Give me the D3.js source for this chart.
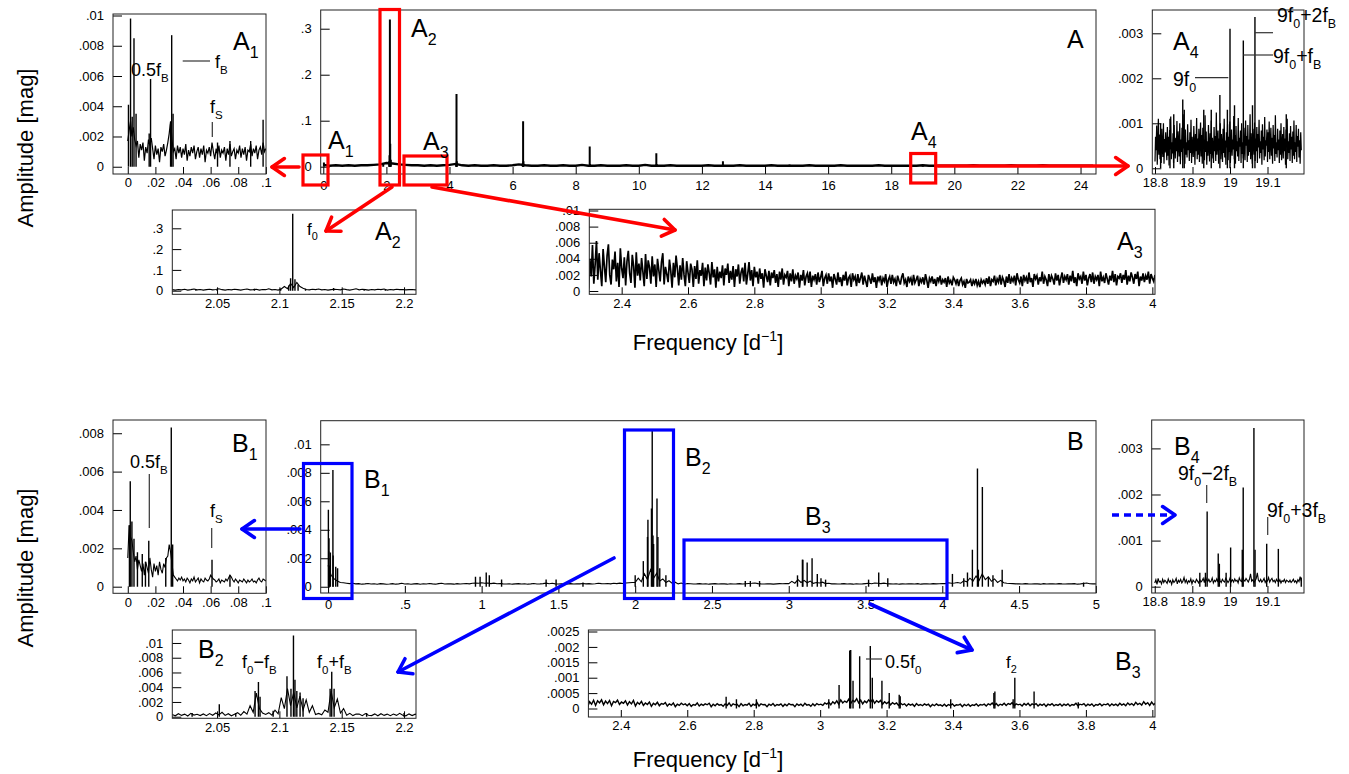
<!DOCTYPE html>
<html>
<head>
<meta charset="utf-8">
<script src="https://cdn.jsdelivr.net/npm/d3@7"></script>
<style>
  body { margin: 0; background: #fff; }
  text { font-family: "Liberation Sans", Arial, Helvetica, sans-serif; fill: #000; }
</style>
</head>
<body>
<svg id="fig" width="1349" height="774"></svg>
<script>
// ---------------- data ----------------
// A: original spectrum, B: residual spectrum. Noise floors are sampled on a
// regular frequency grid (start, step) and given in integer units; peaks are [freq, amp].

// main A, 0..24.4 every 0.2 d^-1, unit 0.001 mag
const aNoise = [4,2,3,2,3,2,3,3,4,5, 8,7,5,4,3,3,2,3,2,3, 4,6,3,2,3,2,2,3,2,2,
  3,5,3,2,2,3,2,2,3,2, 2,4,2,2,3,2,2,2,3,2, 2,4,2,2,2,3,2,2,2,2, 2,3,2,2,2,2,3,2,2,2,
  2,3,2,2,2,2,2,3,2,2, 2,2,3,2,2,2,2,2,3,2, 2,2,2,2,2,3,2,2,2,2, 2,2,2,3,2,2,2,2,2,3,
  2,2,2,2,3,2,2,2,2,2, 2,2,2];
const aPeaks = [[0.02,0.009],[1.9,0.006],[2.09,0.012],[2.10,0.025],[2.111,0.32],[2.122,0.05],[2.14,0.015],
  [4.212,0.008],[4.222,0.158],[4.232,0.012],[6.323,0.008],[6.333,0.099],[6.343,0.012],
  [8.444,0.044],[8.454,0.006],[10.555,0.029],[10.565,0.006],[12.666,0.012],[12.676,0.004],
  [14.777,0.005],[16.888,0.003],[19.0,0.003]];

// A1, 0..0.1 every 0.001, unit 1e-4 mag
const a1Noise = [17,24,30,20,26,18,14,17,6,15, 11,16,4,13,9,18,14,19,12,5, 14,8,12,3,13,10,15,7,11,16,
  22,30,18,10,12,5,14,9,13,6, 12,8,15,4,11,7,13,9,14,5, 10,13,6,12,8,14,3,11,9,13,
  7,16,10,5,12,8,14,6,11,9, 13,4,12,8,15,7,10,12,5,11, 9,14,6,12,8,13,4,11,10,15,
  7,12,9,14,5,11,13,8,16,10,12];
const a1Peaks = [[0.0005,0.0041],[0.002,0.0098],[0.0032,0.0033],[0.0045,0.0085],[0.006,0.0035],
  [0.0155,0.0022],[0.0165,0.0058],[0.031,0.0028],[0.0318,0.0087],[0.0328,0.0035],
  [0.065,0.0016],[0.074,0.0017],[0.089,0.0017],[0.098,0.0031]];

// A2, 2.014..2.2115 every 0.0025, unit 0.001 mag
const a2Noise = [5,3,6,4,7,3,5,8,4,6, 3,5,7,4,6,9,5,3,6,4, 7,5,3,6,8,4,5,7,3,6, 5,9,4,6,3,8,20,10,35,15,
  40,20,12,6,4,7,5,8,4,6, 3,5,7,6,4,8,5,3,6,9, 4,7,5,3,6,4,7,5,8,3, 6,4,7,5,6,4,5,6,4,5];
const a2Peaks = [[2.033,0.005],[2.05,0.006],[2.08,0.009],[2.101,0.01],[2.1075,0.025],[2.109,0.06],
  [2.1107,0.37],[2.1125,0.055],[2.115,0.03],[2.121,0.009],[2.1435,0.013],[2.168,0.005],[2.185,0.005]];

// A3, 2.3..4.008 every 0.004, unit 1e-4 mag
const a3Noise = [3,40,18,57,9,33,62,14,47,25,6,52,30,11,44,58,20,8,39,27,
  49,12,35,5,53,28,16,42,7,37,50,22,10,45,31,4,48,19,34,13,
  41,24,6,46,15,38,29,9,43,18,33,5,40,26,12,36,47,8,30,21,
  11,39,25,4,35,17,44,28,7,32,14,41,20,6,37,23,10,34,27,5,
  31,15,38,9,26,19,35,6,29,13,33,22,8,36,17,27,4,30,12,24,
  16,32,7,28,20,34,10,25,14,31,5,27,18,33,9,23,29,12,35,8,
  21,36,13,26,6,30,17,24,9,28,15,22,4,27,19,11,25,7,23,16,
  26,10,21,5,24,14,28,8,20,17,25,6,22,12,27,9,19,15,23,4,
  20,13,26,7,18,22,10,24,5,19,14,21,8,23,11,17,25,6,16,20,
  9,22,12,18,4,21,15,8,23,11,17,6,20,13,24,7,16,19,5,22,
  14,18,6,21,10,16,23,8,19,12,5,20,15,9,22,11,17,4,18,13,
  19,7,16,12,21,5,14,18,9,20,11,15,6,19,13,8,17,22,10,14,
  5,18,12,16,7,20,10,14,19,6,15,11,17,8,21,13,4,16,12,18,
  9,15,6,17,12,19,8,14,11,16,5,18,10,13,7,17,14,9,15,6,
  13,16,8,12,4,15,10,11,14,6,13,9,15,7,12,5,14,10,13,8,
  16,9,18,6,14,12,19,7,15,11,20,8,17,13,5,18,10,21,9,16,
  12,19,7,22,14,10,18,6,20,13,17,9,23,11,16,5,21,15,19,8,
  17,12,24,9,18,14,6,21,11,19,15,8,22,13,20,7,16,23,10,18,
  14,21,8,19,12,25,10,17,6,22,15,18,9,24,13,20,7,16,21,11,
  23,9,18,14,20,6,24,12,17,10,22,15,8,19,13,25,11,21,7,18,
  16,22,10,20,14,26,8,19,12,23,17,9,21,15,24,6,18,13,22,11,
  19,14,24,9,21,16,12,20];

// A4, 18.80..19.19 every 0.0015, unit 1e-5 mag
const a4Noise = [15,70,40,95,8,55,110,30,75,20,60,12,88,45,25,100,10,65,35,80,
  50,18,92,28,70,6,85,42,115,20,58,33,78,12,96,48,22,68,38,105,
  14,82,55,26,100,9,64,36,90,18,120,44,72,10,86,30,58,24,98,40,
  62,16,80,34,108,12,70,46,25,94,52,8,76,38,112,20,66,30,88,14,
  56,102,26,74,10,90,42,64,18,118,36,82,8,60,28,96,48,15,78,32,
  106,22,68,44,12,92,38,72,16,124,30,58,84,10,66,40,100,20,76,50,
  14,88,34,110,24,62,8,80,46,98,18,70,36,104,12,56,86,28,64,42,
  116,20,74,10,94,38,60,26,112,16,68,48,84,12,100,32,58,22,90,40,
  18,106,50,72,14,96,28,64,36,120,20,78,44,10,88,54,30,102,16,66,
  38,92,12,76,46,108,22,60,34,84,8,98,42,70,18,114,26,62,50,86,
  14,80,36,104,20,56,90,28,68,10,96,44,74,16,118,32,58,24,88,40,
  64,12,84,30,100,18,54,76,22,92,38,66,8,86,46,110,20,60,34,78,
  16,94,42,70,12,82,28,106,20,58,36,96,14,72,48,88,24,62,10,80,
  40];
const a4Peaks = [[18.815,0.001],[18.84,0.0011],[18.85,0.0012],[18.874,0.00153],[18.878,0.0013],[18.93,0.0013],
  [18.95,0.0013],[18.973,0.00163],[18.993,0.0013],[19.0,0.0031],[19.012,0.0014],[19.0355,0.00284],
  [19.06,0.0014],[19.0665,0.00336],[19.15,0.0012]];

// main B, 0..5 every 0.02, unit 1e-5 mag
const bNoise = [150,80,55,40,30,28,25,22,24,20, 22,18,20,23,19,21,18,22,20,17, 19,22,18,20,24,19,21,17,20,22,
  18,21,19,23,20,18,22,24,19,21, 20,18,22,19,21,23,20,24,26,25, 28,24,26,22,25,21,23,20,19,21,
  18,20,22,19,21,18,20,23,19,20, 22,25,21,24,20,19,21,18,20,22, 19,21,20,23,20,22,19,21,24,22,
  21,23,20,24,22,25,23,26,28,30, 30,60,35,90,50,120,60,95,40,55, 30,42,25,32,20,26,18,23,21,19,
  20,22,19,21,18,20,22,19,21,20, 18,21,19,20,22,19,21,23,24,26, 22,20,19,21,20,18,20,22,21,23,
  22,38,25,50,30,45,28,40,24,30, 26,32,22,24,20,21,19,20,22,19, 20,18,21,19,20,22,24,21,26,24,
  22,25,21,20,19,21,18,20,19,21, 20,19,22,18,20,21,19,22,20,21, 23,22,28,24,26,30,25,42,35,60,
  40,75,45,90,50,70,38,55,30,45, 28,25,23,22,20,21,19,22,20,19, 21,20,18,22,19,20,21,19,22,20,
  19,21,20,22,18,20,23,26,21,20, 20];
const bPeaks = [[0.002,0.0054],[0.004,0.0025],[0.006,0.0034],[0.0105,0.0015],[0.015,0.0024],[0.0315,0.0082],
  [0.033,0.0022],[0.05,0.0014],[0.062,0.0013],[0.96,0.0007],[0.99,0.0007],[1.03,0.001],[1.05,0.0008],
  [1.13,0.0005],[1.42,0.0005],[1.485,0.0005],[1.66,0.0003],[2.0,0.0008],[2.053,0.0018],[2.08,0.0035],
  [2.083,0.0047],[2.106,0.0055],[2.111,0.011],[2.116,0.0036],[2.12,0.003],[2.142,0.0062],[2.148,0.0035],
  [2.16,0.0013],[2.2,0.0008],[2.717,0.0004],[2.75,0.0004],[2.81,0.0004],[3.057,0.0008],[3.089,0.0019],
  [3.092,0.0019],[3.12,0.0017],[3.152,0.002],[3.186,0.0009],[3.21,0.0006],[3.24,0.0005],[3.52,0.0005],
  [3.586,0.001],[3.645,0.0006],[4.066,0.0009],[4.14,0.0006],[4.164,0.001],[4.196,0.0026],[4.229,0.0083],
  [4.235,0.0012],[4.261,0.007],[4.3,0.0007],[4.33,0.0008],[4.39,0.0012],[4.92,0.0003]];

// B1, 0..0.1 every 0.001, unit 1e-5 mag
const b1Noise = [150,320,260,240,180,130,160,90,140,110, 80,120,60,130,100,70,150,90,50,120,
  80,110,60,130,90,70,120,100,150,160, 220,180,120,60,50,40,30,45,35,50, 30,40,25,45,35,20,40,30,50,25,
  35,45,20,40,30,25,45,35,30,40, 60,50,40,35,25,30,40,20,35,30, 25,40,30,45,60,50,35,25,40,30,
  20,35,30,25,40,30,20,35,25,30, 40,25,30,20,35,45,30,25,40,35,30];
const b1Peaks = [[0.0012,0.0032],[0.0018,0.0055],[0.003,0.0034],[0.0045,0.0025],[0.007,0.0018],[0.0105,0.0017],
  [0.0128,0.0013],[0.0152,0.0024],[0.0275,0.0015],[0.0315,0.0083],[0.0325,0.0022],[0.061,0.0014],[0.074,0.0006]];

// B2, 2.014..2.2115 every 0.0025, unit 1e-5 mag
const b2Noise = [30,12,40,18,35,10,45,22,33,15, 38,14,42,20,50,25,60,18,40,12, 34,55,20,70,35,150,60,320,110,50,
  30,55,20,90,40,260,110,380,150,330, 120,280,90,230,60,150,30,45,25,90, 60,350,120,240,50,110,20,45,15,36,
  35,14,42,20,15,38,12,40,18,35, 14,36,18,45,20,12,38,16,34,20];
const b2Peaks = [[2.03,0.0005],[2.0518,0.0017],[2.065,0.0005],[2.0805,0.0035],[2.0832,0.0047],[2.0845,0.0027],
  [2.095,0.0008],[2.1061,0.0055],[2.1093,0.0038],[2.1113,0.011],[2.1125,0.005],[2.114,0.0035],[2.1166,0.0033],
  [2.119,0.0025],[2.1407,0.0038],[2.142,0.0061],[2.1439,0.0038],[2.17,0.0005],[2.2,0.0005]];

// B3, 2.3..4.01 every 0.006, unit 1e-5 mag
const b3Noise = [5,22,14,27,10,25,18,28,12,24, 16,26,9,23,19,27,13,21,17,25, 11,22,15,26,8,20,14,23,10,18,
  13,21,7,17,12,20,9,16,14,19, 8,15,11,18,6,14,10,17,12,15, 9,16,7,13,11,18,8,14,10,15,
  12,17,6,14,9,16,11,13,7,15, 10,18,8,15,12,14,6,16,9,13, 11,17,7,14,10,19,8,15,12,13,
  6,14,10,16,8,13,11,15,7,14, 9,16,12,13,6,15,10,14,8,17, 11,13,7,15,9,16,12,14,10,18,
  14,20,12,22,16,25,14,28,18,24, 20,30,16,26,22,32,18,27,15,24, 19,28,21,30,17,25,20,26,14,22,
  16,21,12,19,14,18,10,17,12,15, 8,15,11,14,7,16,10,13,9,15, 11,14,6,13,9,15,10,12,8,14,
  7,13,10,15,8,12,11,14,6,13, 9,14,7,12,10,15,8,13,11,14, 8,15,12,18,10,16,9,14,11,17,
  10,16,13,19,9,15,12,14,8,16, 11,17,9,15,12,16,8,14,10,15, 7,14,11,16,9,13,10,15,8,14,
  10,15,8,13,11,17,9,14,12,16, 8,14,10,15,7,13,11,16,9,14, 12,16,8,15,10,14,9,17,11,15,
  9,18,12,16,10,20,13,17,11,22, 14,19,10,21,12,18];
const b3Peaks = [[2.717,0.00038],[2.748,0.0003],[2.808,0.0003],[3.026,0.0003],[3.057,0.00076],[3.089,0.00188],
  [3.092,0.0019],[3.099,0.0009],[3.119,0.0017],[3.151,0.00203],[3.157,0.001],[3.186,0.0009],[3.208,0.0005],
  [3.238,0.00045],[3.241,0.0004],[3.393,0.0003],[3.523,0.0005],[3.526,0.00055],[3.581,0.0003],[3.586,0.001],
  [3.644,0.00055],[3.777,0.0002]];

// B4, 18.80..19.19 every 0.003, unit 1e-5 mag
const b4Noise = [8,15,5,18,10,12,6,16,9,14, 11,7,17,10,13,5,15,9,12,18, 6,14,10,16,8,12,20,9,15,7,
  13,10,17,6,14,11,9,16,12,8, 15,10,13,18,9,22,14,11,16,10, 12,19,8,14,11,17,10,25,13,9,
  16,12,10,18,14,9,13,20,11,15, 10,17,12,14,8,19,13,11,22,15, 12,18,14,10,16,28,12,15,9,13,
  17,30,14,11,16,10,13,18,9,14, 12,20,10,15,18,11,14,9,16,12, 10,15,8,13,11,16,9,14,12,10,
  14,9,12,16,10,13,8,15,11,22, 12];
const b4Peaks = [[18.92,0.0003],[18.935,0.0003],[18.9395,0.00163],[18.969,0.00072],[18.972,0.0005],[18.99,0.0003],
  [19.002,0.00085],[19.033,0.0008],[19.0355,0.00215],[19.064,0.00344],[19.067,0.0008],[19.098,0.00093],
  [19.129,0.00082],[19.19,0.0002]];

// ---------------- layout ----------------
const panels = [
  { id:"A",  box:[320.7,1096,10,174],   x:[-0.082,24.49],   y:[-0.0159,0.3407],  noise:[0,0.2,1e-3,aNoise],        peaks:aPeaks,  xt:[2,0.5],      yt:[0.1,0.02],      lw:2.4, pad:7 },
  { id:"A1", box:[113,266,14,174],      x:[-0.0107,0.1001], y:[-0.00048,0.0101], noise:[0,0.001,1e-4,a1Noise],     peaks:a1Peaks, xt:[0.02,0.005], yt:[0.002,0.0005], lw:1.2 },
  { id:"A4", box:[1152.3,1304,10,174],  x:[18.7928,19.1973],y:[-0.000127,0.003518],noise:[18.8,0.0015,1e-5,a4Noise],peaks:a4Peaks, xt:[0.1,0.02],    yt:[0.001,0.0002], lw:1.25 },
  { id:"A2", box:[172.3,416,210,294.3], x:[2.0141,2.2096],  y:[-0.0173,0.388],   noise:[2.014,0.0025,1e-3,a2Noise],peaks:a2Peaks, xt:[0.05,0.01],   yt:[0.1,0.02] },
  { id:"A3", box:[589.3,1155,209.3,294.3],x:[2.3024,4.008], y:[-0.00041,0.01015],noise:[2.3,0.004,1e-4,a3Noise],   peaks:[],      xt:[0.2,0.05],    yt:[0.002,0.0005], lw:1.7 },
  { id:"B",  box:[320.7,1096,420.7,593],x:[-0.048,5.001],   y:[-0.00044,0.01166],noise:[0,0.02,1e-5,bNoise],       peaks:bPeaks,  xt:[0.5,0.1],     yt:[0.002,0.0005], pad:7 },
  { id:"B1", box:[113,266,420,593.3],   x:[-0.0107,0.1001], y:[-0.000344,0.00869],noise:[0,0.001,1e-5,b1Noise],    peaks:b1Peaks, xt:[0.02,0.005], yt:[0.002,0.0005] },
  { id:"B4", box:[1151.7,1304,420,593], x:[18.7919,19.1973],y:[-0.000137,0.003616],noise:[18.8,0.003,1e-5,b4Noise], peaks:b4Peaks, xt:[0.1,0.02],    yt:[0.001,0.0002] },
  { id:"B2", box:[172.3,416,630,718.3], x:[2.0141,2.2096],  y:[-0.000216,0.01176],noise:[2.014,0.0025,1e-5,b2Noise],peaks:b2Peaks, xt:[0.05,0.01],   yt:[0.002,0.0005] },
  { id:"B3", box:[588.4,1155,630,717],  x:[2.3024,4.008],   y:[-0.000276,0.002549],noise:[2.3,0.006,1e-5,b3Noise], peaks:b3Peaks, xt:[0.2,0.05],    yt:[0.0005,0.0001], lw:1.4 }
];

// zoom boxes drawn on the main panels [x0, x1, y0, y1]
const redBoxes  = [[303,328,155,185],[380,399.5,9.5,185],[404,447,156,185],[910.7,935.7,153.5,183]];
const blueBoxes = [[303.5,352,463.5,598.5],[624.5,673.5,430,598.5],[684,947,540,598.5]];
// arrows [x1, y1, x2, y2, dashed]
const redArrows  = [[299,167,272,167],[938,166,1128,166],[392,187,326,231],[432,187,675,230]];
const blueArrows = [[300,529,242,529],[1112,515,1175,515,true],[614,558,398,672],[870,604,972,650]];

const labels = [
  [1067,48,["A"],25],[328,149,["A","_1"],25],[411,37,["A","_2"],25],[423,150,["A","_3"],25],[911,140,["A","_4"],25],
  [233,50,["A","_1"],25],[375,240,["A","_2"],25],[1117,250,["A","_3"],25],[1173,50,["A","_4"],25],
  [1067,450,["B"],25],[364,488,["B","_1"],25],[685,466,["B","_2"],25],[805,525,["B","_3"],25],
  [232,452,["B","_1"],25],[198,658,["B","_2"],25],[1115,670,["B","_3"],25],[1174,455,["B","_4"],25],
  [131,76,["0.5f","_B"],18],[215,68,["f","_B"],18],[210,113,["f","_S"],18],
  [1277,22,["9f","_0","+2f","_B"],19.5],[1273,63,["9f","_0","+f","_B"],19.5],[1173,86,["9f","_0"],19.5],
  [307,235,["f","_0"],17],
  [130,468,["0.5f","_B"],18],[210,517,["f","_S"],18],
  [1178,480,["9f","_0","\u22122f","_B"],19.5],[1267,517,["9f","_0","+3f","_B"],19.5],
  [242,668,["f","_0","\u2212f","_B"],18],[317,668,["f","_0","+f","_B"],18],
  [885,668,["0.5f","_0"],18],[1006,668,["f","_2"],17]
];
const leaders = [[182.7,61,210,61],[212.3,122,212.3,137],[1255,32.7,1273,32.7],[1243.3,55,1273,55],[1195,77.7,1228.3,77.7],
  [149.3,474,149.3,528],[211.7,528,211.7,548],[1206.7,485,1206.7,503],[1267.7,517,1267.7,535],[866,659,882,659]];

// ---------------- drawing ----------------
const svg = d3.select("#fig");
svg.append("rect").attr("width", 1349).attr("height", 774).attr("fill", "#fff");

const fmt = v => String(+v.toFixed(6)).replace(/^0\./, ".").replace(/^-0\./, "-.");
function ticksIn(dom, step) {
    let lo = Math.ceil(dom[0] / step - 1e-6), hi = Math.floor(dom[1] / step + 1e-6);
    return d3.range(lo, hi + 1).map(i => +(i * step).toFixed(8));
}

panels.forEach(p => {
    const [l, r, t, b] = p.box;
    const x = d3.scaleLinear().domain(p.x).range([l, r]);
    const y = d3.scaleLinear().domain(p.y).range([b, t]);
    const g = svg.append("g");

    g.append("clipPath").attr("id", "clip" + p.id)
        .append("rect").attr("x", l).attr("y", t).attr("width", r - l).attr("height", b - t);
    const plot = g.append("g").attr("clip-path", "url(#clip" + p.id + ")");

    // noise floor as a line over its frequency grid
    const [start, step, unit, vals] = p.noise;
    const series = vals.map((v, i) => ({ f: start + i * step, a: v * unit }));
    plot.append("path")
        .datum(series)
        .attr("fill", "none")
        .attr("stroke", "#000")
        .attr("stroke-width", p.lw || 1.1)
        .attr("stroke-linejoin", "miter")
        .attr("d", d3.line().x(d => x(d.f)).y(d => y(d.a)));

    // peaks as thin spikes from zero
    plot.selectAll("line.pk").data(p.peaks).join("line")
        .attr("class", "pk")
        .attr("x1", d => x(d[0])).attr("x2", d => x(d[0]))
        .attr("y1", y(0)).attr("y2", d => y(d[1]))
        .attr("stroke", "#000").attr("stroke-width", p.id === "A" ? 2 : 1.4);

    // axes, ROOT style: ticks pointing inside
    const xMaj = ticksIn(p.x, p.xt[0]), xMin = ticksIn(p.x, p.xt[1]);
    const yMaj = ticksIn(p.y, p.yt[0]), yMin = ticksIn(p.y, p.yt[1]);
    const ax = g.append("g").attr("transform", "translate(0," + b + ")");
    ax.call(d3.axisBottom(x).tickValues(xMin).tickSize(-3).tickFormat(""));
    ax.call(d3.axisBottom(x).tickValues(xMaj).tickSize(-7).tickPadding(p.pad || 4).tickFormat(fmt));
    const ay = g.append("g").attr("transform", "translate(" + l + ",0)");
    ay.call(d3.axisLeft(y).tickValues(yMin).tickSize(-4).tickFormat(""));
    ay.call(d3.axisLeft(y).tickValues(yMaj).tickSize(-9).tickPadding(9).tickFormat(fmt));
    g.selectAll(".domain").remove();
    g.selectAll(".tick line").attr("stroke", "#000");
    g.selectAll(".tick text").attr("font-size", 13).attr("font-family", '"Liberation Sans", Arial, sans-serif');

    g.append("rect").attr("x", l).attr("y", t).attr("width", r - l).attr("height", b - t)
        .attr("fill", "none").attr("stroke", "#222").attr("stroke-width", 1);
});

// zoom boxes
function boxes(list, color) {
    svg.append("g").selectAll("rect").data(list).join("rect")
        .attr("x", d => d[0]).attr("y", d => d[2])
        .attr("width", d => d[1] - d[0]).attr("height", d => d[3] - d[2])
        .attr("fill", "none").attr("stroke", color).attr("stroke-width", 3.2);
}
boxes(redBoxes, "#ff0000");
boxes(blueBoxes, "#0000ff");

// arrows with open chevron heads
function arrows(list, color) {
    const g = svg.append("g").attr("stroke", color).attr("stroke-width", 3.6)
        .attr("stroke-linecap", "round").attr("fill", "none");
    list.forEach(a => {
        const [x1, y1, x2, y2, dashed] = a;
        const ang = Math.atan2(y2 - y1, x2 - x1), len = 15, spread = 0.6;
        g.append("line").attr("x1", x1).attr("y1", y1).attr("x2", x2).attr("y2", y2)
            .attr("stroke-dasharray", dashed ? "7,5" : null)
            .attr("stroke-linecap", dashed ? "butt" : "round");
        g.append("path").attr("stroke-linejoin", "round").attr("d",
            "M" + (x2 - len * Math.cos(ang - spread)) + "," + (y2 - len * Math.sin(ang - spread)) +
            "L" + x2 + "," + y2 +
            "L" + (x2 - len * Math.cos(ang + spread)) + "," + (y2 - len * Math.sin(ang + spread)));
    });
}
arrows(redArrows, "#ff0000");
arrows(blueArrows, "#0000ff");

// text with sub/superscripts: "_x" sub, "^x" super
function rich(x, y, parts, size, anchor, rotate) {
    const t = svg.append("text").attr("x", x).attr("y", y).attr("font-size", size)
        .attr("text-anchor", anchor || "start");
    if (rotate) t.attr("transform", "rotate(" + rotate + "," + x + "," + y + ")");
    let shift = 0;
    parts.forEach(p => {
        const mode = p[0] === "_" ? 1 : p[0] === "^" ? -1 : 0;
        const s = t.append("tspan").text(mode ? p.slice(1) : p);
        const want = mode === 1 ? size * 0.32 : mode === -1 ? -size * 0.42 : 0;
        if (mode) s.attr("font-size", size * 0.64);
        if (want !== shift) { s.attr("dy", want - shift); shift = want; }
    });
}
labels.forEach(d => rich(d[0], d[1], d[2], d[3]));

svg.append("g").selectAll("line").data(leaders).join("line")
    .attr("x1", d => d[0]).attr("y1", d => d[1]).attr("x2", d => d[2]).attr("y2", d => d[3])
    .attr("stroke", "#333").attr("stroke-width", 1.2);

// axis titles
rich(708, 350, ["Frequency [d", "^\u22121", "]"], 22, "middle");
rich(708, 767, ["Frequency [d", "^\u22121", "]"], 22, "middle");
rich(33, 148, ["Amplitude [mag]"], 22, "middle", -90);
rich(33, 568, ["Amplitude [mag]"], 22, "middle", -90);
</script>
</body>
</html>
